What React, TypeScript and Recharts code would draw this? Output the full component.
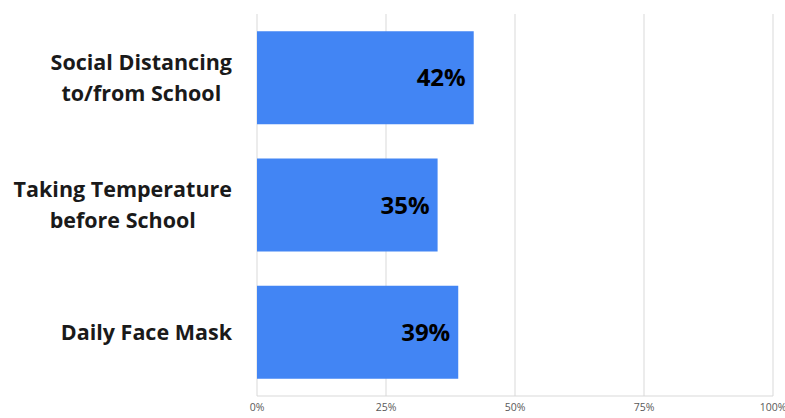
import { BarChart, Bar, XAxis, YAxis, CartesianGrid, LabelList } from 'recharts'

const categories = ['Social Distancing\nto/from School', 'Taking Temperature\nbefore School', 'Daily Face Mask']
const shares = [42, 35, 39]
const xTicks = [0, 25, 50, 75, 100]

const FONT = '"Open Sans", Lato, sans-serif'
const CAT_SIZE = 21.5

const chartData = categories.map((c, i) => ({ name: c, value: shares[i] }))

let ctx: CanvasRenderingContext2D | null = null
function textWidth(s: string) {
  if (!ctx) ctx = document.createElement('canvas').getContext('2d')
  if (!ctx) return s.length * CAT_SIZE * 0.55
  ctx.font = `700 ${CAT_SIZE}px ${FONT}`
  return ctx.measureText(s).width
}

// lines of a label are centred on each other, block right-aligned to the axis
function CategoryTick(props: any) {
  const { x, y, payload } = props
  const lines = String(payload.value).split('\n')
  const widest = Math.max(...lines.map(textWidth))
  const cx = x - widest / 2
  const start = -((lines.length - 1) * 31) / 2
  return (
    <text x={cx} y={y} textAnchor="middle" fontFamily={FONT} fontWeight={700} fontSize={CAT_SIZE} fill="#1a1a1a">
      {lines.map((l, i) => (
        <tspan key={i} x={cx} y={y + start + i * 31} dy="0.35em">{l}</tspan>
      ))}
    </text>
  )
}

export default function App() {
  return (
    <div style={{ position: 'fixed', left: 0, top: 0, width: 785, height: 418, background: '#fff' }}>
      <BarChart
        width={785} height={418} data={chartData} layout="vertical"
        margin={{ top: 14, right: 12, bottom: 0, left: 0 }}
        barCategoryGap="13.5%"
      >
        <CartesianGrid horizontal={false} stroke="#d9d9d9" />
        <XAxis
          type="number" domain={[0, 100]} ticks={xTicks} interval={0}
          tickFormatter={(v: number) => `${v}%`}
          axisLine={{ stroke: '#d9d9d9' }} tickLine={false} height={22}
          tick={{ fill: '#595959', fontSize: 10.5, fontFamily: FONT }}
        />
        <YAxis
          type="category" dataKey="name" width={257}
          axisLine={false} tickLine={false} tickMargin={19}
          tick={<CategoryTick />}
        />
        <Bar dataKey="value" fill="#4285f4" isAnimationActive={false}>
          <LabelList
            dataKey="value" position="insideRight" offset={8}
            formatter={(v: number) => `${v}%`}
            style={{ fill: '#000', fontSize: 24, fontWeight: 700, fontFamily: FONT }}
          />
        </Bar>
      </BarChart>
    </div>
  )
}
